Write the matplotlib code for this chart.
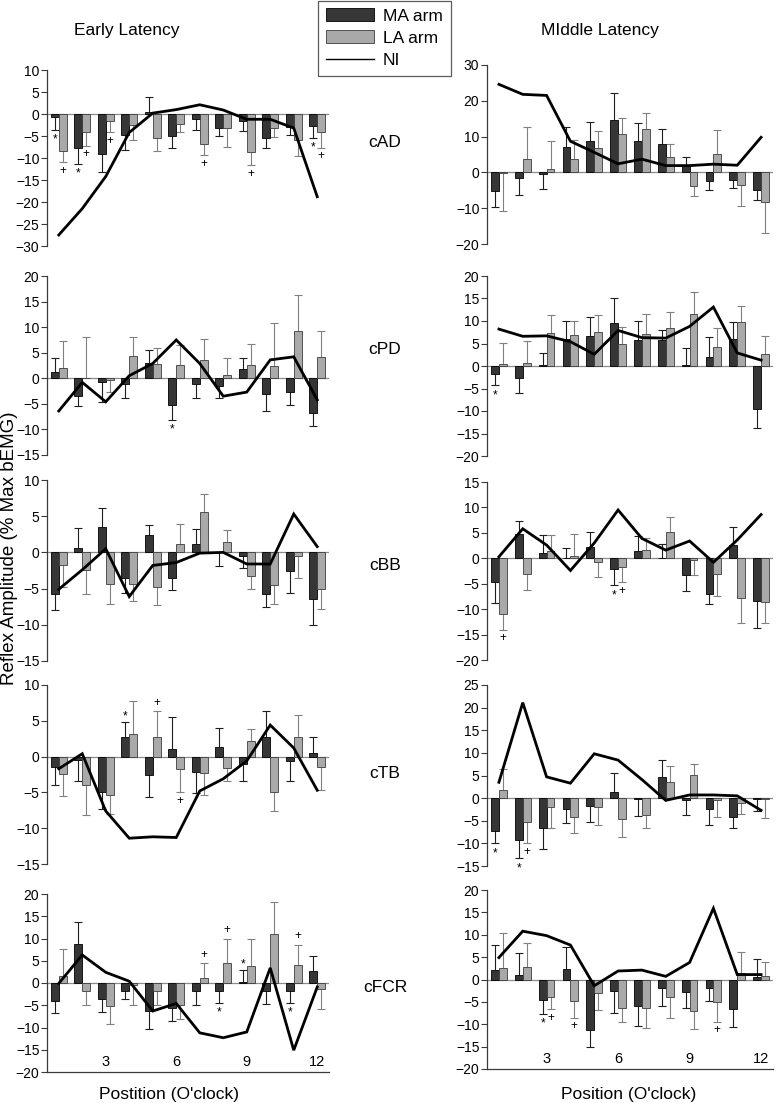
import matplotlib
matplotlib.use('Agg')
import matplotlib.pyplot as plt
import numpy as np
from matplotlib.patches import Patch
from matplotlib.lines import Line2D

plt.rcParams['font.family'] = ['Liberation Sans', 'DejaVu Sans']

# ---------------- data ----------------
positions = list(range(1, 13))
tick_positions = [3, 6, 9, 12]
tick_labels = ['3', '6', '9', '12']
muscles = ['cAD', 'cPD', 'cBB', 'cTB', 'cFCR']
series_names = ['MA arm', 'LA arm', 'NI']

# Early latency (left column); errors are signed (direction of the one-sided bar)
early_cAD_ma = [-0.7, -7.7, -9.2, -4.8, 0.4, -5.0, -1.2, -3.2, -1.7, -5.5, -2.9, -2.8]
early_cAD_ma_err = [-2.9, -3.7, -3.9, -3.4, 3.4, -2.7, -2.4, -1.8, -2.1, -2.2, -1.9, -2.7]
early_cAD_la = [-8.5, -4.0, -1.5, -2.5, -5.5, -2.3, -6.9, -3.2, -8.7, -3.2, -5.8, -4.0]
early_cAD_la_err = [-2.5, -3.3, -2.7, -3.5, -3.0, -1.9, -2.5, -4.3, -3.0, -2.0, -3.8, -3.7]
early_cAD_ni = [-27.5, -21.5, -14.2, -4.2, 0.2, 1.0, 2.1, 0.9, -1.2, -1.2, -3.2, -18.8]

early_cPD_ma = [1.3, -3.5, -0.8, -1.2, 2.9, -5.3, -1.2, -1.6, 1.8, -3.1, -2.6, -6.7]
early_cPD_ma_err = [2.6, -1.9, -3.8, -2.7, 2.6, -2.8, -2.7, -2.2, 2.1, -3.3, -2.6, -2.7]
early_cPD_la = [2.1, 0.1, -0.3, 4.4, 2.8, 2.6, 3.5, 0.7, 2.6, 2.5, 9.2, 4.1]
early_cPD_la_err = [5.1, 7.9, -2.3, 3.7, 3.1, 3.9, 4.1, 3.2, 4.2, 8.4, 7.1, 5.1]
early_cPD_ni = [-6.4, -0.8, -4.6, 0.5, 2.9, 7.5, 2.9, -3.5, -2.7, 3.6, 4.2, -4.2]

early_cBB_ma = [-5.7, 0.55, 3.5, -3.5, 2.4, -3.5, 1.15, 0.05, -0.55, -5.8, -2.5, -6.4]
early_cBB_ma_err = [-2.3, 2.85, 2.7, -2.1, 1.4, -1.7, 2.15, -1.95, -1.65, -1.8, -3.1, -3.6]
early_cBB_la = [-1.8, -2.4, -4.3, -4.3, -4.8, 1.15, 5.6, 1.5, -3.3, -4.5, -0.5, -5.0]
early_cBB_la_err = [-3.0, -3.3, -2.8, -2.4, -2.5, 2.75, 2.4, 1.6, -1.7, -2.6, -3.0, -2.8]
early_cBB_ni = [-5.1, -2.4, 0.5, -6.1, -1.8, -1.4, -0.1, 0.0, -1.6, -1.6, 5.3, 0.8]

early_cTB_ma = [-1.5, -0.5, -5.0, 2.7, -2.5, 1.0, -2.2, 1.4, -1.1, 2.8, -0.6, 0.5]
early_cTB_ma_err = [-2.5, -2.9, -2.3, 2.2, -3.1, 4.6, -2.9, 2.6, -2.3, 3.5, -2.8, 2.2]
early_cTB_la = [-2.4, -4.0, -5.4, 3.1, 2.7, -1.7, -2.3, -1.6, 2.2, -4.9, 2.8, -1.4]
early_cTB_la_err = [-3.1, -4.2, -2.6, 4.7, 3.6, -3.3, -3.0, -1.8, 1.6, -2.7, 3.0, -3.3]
early_cTB_ni = [-1.7, 0.4, -7.6, -11.4, -11.2, -11.3, -4.8, -3.1, -0.6, 4.4, 1.2, -4.7]

early_cFCR_ma = [-4.1, 8.7, -3.5, -1.7, -6.3, -5.6, -1.7, -1.8, 0.2, -1.7, -1.7, 2.6]
early_cFCR_ma_err = [-2.6, 5.0, -3.0, -2.0, -4.1, -3.0, -3.2, -2.7, 2.8, -3.0, -2.8, 3.4]
early_cFCR_la = [1.6, -1.7, -5.2, -0.5, -1.7, -4.9, 1.1, 4.5, 3.8, 11.0, 4.1, -1.3]
early_cFCR_la_err = [6.0, -3.2, -4.1, -4.4, -3.3, -3.2, 3.4, 5.5, 6.1, 7.1, 4.5, -4.5]
early_cFCR_ni = [-0.1, 6.3, 2.4, 0.4, -6.3, -4.6, -11.2, -12.3, -11.0, 3.4, -15.1, -0.9]

# Middle latency (right column)
middle_cAD_ma = [-5.3, -1.6, -0.4, 7.0, 8.9, 14.5, 8.9, 8.0, 1.7, -2.5, -2.1, -4.9]
middle_cAD_ma_err = [-4.4, -4.8, -4.2, 5.6, 5.2, 7.6, 4.9, 4.1, 2.6, -2.4, -2.3, -2.8]
middle_cAD_la = [-0.3, 3.7, 0.9, 3.7, 6.8, 10.8, 12.0, 4.3, -3.9, 5.2, -3.6, -8.3]
middle_cAD_la_err = [-10.6, 9.0, 7.8, 5.3, 4.7, 4.4, 4.6, 3.6, -2.6, 6.6, -5.7, -8.7]
middle_cAD_ni = [24.6, 21.8, 21.5, 8.7, 5.6, 2.4, 3.7, 1.9, 1.9, 2.3, 2.0, 9.8]

middle_cPD_ma = [-1.7, -2.6, 0.2, 6.1, 6.6, 9.6, 5.7, 5.7, 0.3, 2.0, 5.9, -9.6]
middle_cPD_ma_err = [-2.6, -3.3, 2.7, 4.0, 4.4, 5.6, 4.4, 2.2, 3.7, 4.5, 3.9, -4.2]
middle_cPD_la = [0.5, 0.6, 7.4, 6.8, 7.6, 4.9, 7.1, 8.5, 11.5, 4.3, 9.8, 2.7]
middle_cPD_la_err = [4.6, 4.9, 3.9, 3.1, 3.7, 3.8, 4.5, 3.5, 5.0, 4.2, 3.6, 3.9]
middle_cPD_ni = [8.2, 6.6, 6.7, 5.4, 2.6, 7.9, 6.3, 6.2, 8.8, 13.1, 2.9, 1.3]

middle_cBB_ma = [-4.7, 4.8, 1.1, 0.1, 2.3, -2.2, 1.4, 0.1, -3.2, -7.1, 2.6, -8.4]
middle_cBB_ma_err = [-4.0, 2.6, 3.4, 1.9, 2.8, -3.1, 3.0, 2.7, -3.2, -1.9, 3.6, -5.3]
middle_cBB_la = [-11.0, -3.0, 1.5, 0.5, -0.7, -1.8, 1.6, 5.1, -0.3, -3.1, -7.8, -8.6]
middle_cBB_la_err = [-3.1, -3.3, 3.0, 4.2, -3.0, -2.9, 2.3, 3.1, -2.9, -4.3, -4.9, -4.2]
middle_cBB_ni = [0.3, 5.8, 2.6, -2.4, 3.0, 9.5, 3.9, 1.6, 3.4, -0.8, 3.6, 8.6]

middle_cTB_ma = [-7.2, -9.3, -6.5, -2.4, -1.85, 1.3, -0.1, 4.6, -0.5, -2.4, -4.2, -0.1]
middle_cTB_ma_err = [-2.8, -4.0, -4.8, -3.2, -3.35, 4.2, -3.8, 3.8, -3.2, -3.5, -2.5, -2.7]
middle_cTB_la = [1.9, -5.2, -2.0, -4.2, -2.0, -4.7, -3.7, 3.5, 5.1, -0.4, -1.1, -0.1]
middle_cTB_la_err = [4.5, -4.8, -4.7, -3.6, -3.9, -4.0, -3.0, 3.5, 2.4, -3.7, -2.4, -4.3]
middle_cTB_ni = [3.5, 21.1, 4.7, 3.3, 9.8, 8.4, 4.1, -0.5, 0.7, 0.7, 0.5, -2.7]

middle_cFCR_ma = [2.1, 1.1, -4.5, 2.3, -11.3, -2.6, -5.9, -1.9, -2.8, -2.0, -6.7, 0.6]
middle_cFCR_ma_err = [5.7, 4.9, -3.1, 5.0, -3.8, -4.9, -4.5, -4.1, -3.5, -2.9, -3.9, 4.0]
middle_cFCR_la = [2.6, 2.8, -3.9, -4.8, -3.1, -6.3, -6.3, -4.0, -7.1, -5.1, 1.5, 0.7]
middle_cFCR_la_err = [7.7, 5.3, -2.8, -3.7, -3.8, -3.3, -4.5, -4.6, -4.0, -4.4, 4.7, 3.1]
middle_cFCR_ni = [4.9, 10.8, 9.8, 7.7, -1.4, 1.9, 2.1, 0.7, 3.8, 15.9, 1.1, 1.1]

# significance marks: (position, arm, symbol)
early_cAD_marks = [(1, 'MA', '*'), (1, 'LA', '+'), (2, 'MA', '*'), (2, 'LA', '+'), (3, 'LA', '+'),
                   (7, 'LA', '+'), (9, 'LA', '+'), (12, 'MA', '*'), (12, 'LA', '+')]
early_cPD_marks = [(6, 'MA', '*')]
early_cBB_marks = []
early_cTB_marks = [(4, 'MA', '*'), (5, 'LA', '+'), (6, 'LA', '+')]
early_cFCR_marks = [(7, 'LA', '+'), (8, 'MA', '*'), (8, 'LA', '+'), (9, 'MA', '*'),
                    (11, 'MA', '*'), (11, 'LA', '+')]
middle_cAD_marks = []
middle_cPD_marks = [(1, 'MA', '*')]
middle_cBB_marks = [(1, 'LA', '+'), (6, 'MA', '*'), (6, 'LA', '+')]
middle_cTB_marks = [(1, 'MA', '*'), (2, 'MA', '*'), (2, 'LA', '+')]
middle_cFCR_marks = [(3, 'MA', '*'), (3, 'LA', '+'), (4, 'LA', '+'), (10, 'LA', '+')]

# ---------------- layout ----------------
W, H = 777, 1103
fig = plt.figure(figsize=(W / 100, H / 100), dpi=100)

MA_COLOR = '#363636'
LA_COLOR = '#a9a9a9'


def add_ax(left_px, right_px, top_px, bottom_px):
    return fig.add_axes([left_px / W, 1 - bottom_px / H,
                         (right_px - left_px) / W, (bottom_px - top_px) / H])


def draw_panel(ax, ma, ma_err, la, la_err, ni, marks, ylim, step, bottom_row):
    x = np.array(positions, dtype=float)
    bw = 0.33
    ma = np.array(ma); la = np.array(la)
    ma_err = np.array(ma_err); la_err = np.array(la_err)
    ax.axhline(0, color='#8c8c8c', lw=0.9, zorder=1)
    ax.bar(x - bw / 2, ma, bw, color=MA_COLOR, edgecolor='#000000', linewidth=0.6, zorder=2)
    ax.bar(x + bw / 2, la, bw, color=LA_COLOR, edgecolor='#3c3c3c', linewidth=0.6, zorder=2)
    for xs, vals, errs, col in [(x - bw / 2, ma, ma_err, '#1e1e1e'), (x + bw / 2, la, la_err, '#808080')]:
        ends = vals + errs
        ax.vlines(xs, vals, ends, colors=col, lw=0.8, zorder=1.5)
        ax.plot(xs, ends, linestyle='none', marker='_', markersize=6, markeredgewidth=0.8,
                color=col, zorder=1.5)
    ax.plot(x, ni, color='black', lw=2.0, zorder=4, solid_joinstyle='miter')
    for pos, arm, sym in marks:
        i = pos - 1
        if arm == 'MA':
            xv, end = x[i] - bw / 2, ma[i] + ma_err[i]
            d = np.sign(ma_err[i])
        else:
            xv, end = x[i] + bw / 2, la[i] + la_err[i]
            d = np.sign(la_err[i])
        off = 6 if d > 0 else -6
        if sym == '*':
            off += -2 if d > 0 else -1
        ax.annotate(sym, xy=(xv, end), xytext=(0, off), textcoords='offset points',
                    ha='center', va='center', fontsize=8.5, zorder=5)
    ax.set_xlim(0.5, 12.5)
    ax.set_ylim(ylim)
    ax.set_yticks(np.arange(ylim[0], ylim[1] + 0.01, step))
    ax.set_xticks([])
    for s in ['top', 'right']:
        ax.spines[s].set_visible(False)
    ax.spines['left'].set_color('#3a3a3a')
    ax.spines['left'].set_linewidth(0.9)
    if bottom_row:
        ax.spines['bottom'].set_color('#3a3a3a')
        ax.spines['bottom'].set_linewidth(0.9)
        for tp, tl in zip(tick_positions, tick_labels):
            ax.annotate(tl, xy=(tp, ylim[0]), xytext=(0, 2), textcoords='offset points',
                        ha='center', va='bottom', fontsize=10.5)
    else:
        ax.spines['bottom'].set_visible(False)
    ax.tick_params(axis='y', direction='out', length=4, width=0.8, labelsize=10,
                   color='#3a3a3a', pad=1.5)
    ax.patch.set_alpha(0)


early = [
    (early_cAD_ma, early_cAD_ma_err, early_cAD_la, early_cAD_la_err, early_cAD_ni, early_cAD_marks),
    (early_cPD_ma, early_cPD_ma_err, early_cPD_la, early_cPD_la_err, early_cPD_ni, early_cPD_marks),
    (early_cBB_ma, early_cBB_ma_err, early_cBB_la, early_cBB_la_err, early_cBB_ni, early_cBB_marks),
    (early_cTB_ma, early_cTB_ma_err, early_cTB_la, early_cTB_la_err, early_cTB_ni, early_cTB_marks),
    (early_cFCR_ma, early_cFCR_ma_err, early_cFCR_la, early_cFCR_la_err, early_cFCR_ni, early_cFCR_marks),
]
middle = [
    (middle_cAD_ma, middle_cAD_ma_err, middle_cAD_la, middle_cAD_la_err, middle_cAD_ni, middle_cAD_marks),
    (middle_cPD_ma, middle_cPD_ma_err, middle_cPD_la, middle_cPD_la_err, middle_cPD_ni, middle_cPD_marks),
    (middle_cBB_ma, middle_cBB_ma_err, middle_cBB_la, middle_cBB_la_err, middle_cBB_ni, middle_cBB_marks),
    (middle_cTB_ma, middle_cTB_ma_err, middle_cTB_la, middle_cTB_la_err, middle_cTB_ni, middle_cTB_marks),
    (middle_cFCR_ma, middle_cFCR_ma_err, middle_cFCR_la, middle_cFCR_la_err, middle_cFCR_ni, middle_cFCR_marks),
]

left_boxes = [(70, 246, (-30, 10), 5), (276, 455, (-15, 20), 5), (480, 661, (-15, 10), 5),
              (685, 864, (-15, 10), 5), (894, 1072, (-20, 20), 5)]
right_boxes = [(65, 244, (-20, 30), 10), (276, 456, (-20, 20), 5), (482, 660, (-20, 15), 5),
               (685, 866, (-15, 25), 5), (890, 1069, (-20, 20), 5)]

for r in range(5):
    t, b, yl, st = left_boxes[r]
    ax = add_ax(47, 329, t, b)
    draw_panel(ax, *early[r], yl, st, r == 4)
    t, b, yl, st = right_boxes[r]
    ax = add_ax(487, 773, t, b)
    draw_panel(ax, *middle[r], yl, st, r == 4)

# muscle labels
muscle_y = [142, 350, 565, 773, 987]
for m, yy in zip(muscles, muscle_y):
    fig.text(385 / W, 1 - yy / H, m, ha='center', va='center', fontsize=12.5)

fig.text(127 / W, 1 - 30 / H, 'Early Latency', ha='center', va='center', fontsize=12.5)
fig.text(600 / W, 1 - 31 / H, 'MIddle Latency', ha='center', va='center', fontsize=12.5)
fig.text(169 / W, 1 - 1094 / H, "Postition (O'clock)", ha='center', va='center', fontsize=12.5)
fig.text(629 / W, 1 - 1094 / H, "Position (O'clock)", ha='center', va='center', fontsize=12.5)
fig.text(9.5 / W, 1 - 548 / H, 'Reflex Amplitude (% Max bEMG)', ha='center', va='center',
         rotation=90, fontsize=13.5)

handles = [Patch(facecolor=MA_COLOR, edgecolor='black', linewidth=0.6),
           Patch(facecolor=LA_COLOR, edgecolor='#3c3c3c', linewidth=0.6),
           Line2D([0], [0], color='black', lw=1.0)]
leg = fig.legend(handles, series_names, loc='upper left', bbox_to_anchor=(318 / W, 1 - 0.5 / H),
                 frameon=True, fancybox=False, fontsize=12.5, handlelength=2.8, handleheight=0.75,
                 handletextpad=0.5, labelspacing=0.38, borderpad=0.45, borderaxespad=0)
leg.get_frame().set_edgecolor('#333333')
leg.get_frame().set_linewidth(0.9)

fig.savefig('out.png', dpi=100)
